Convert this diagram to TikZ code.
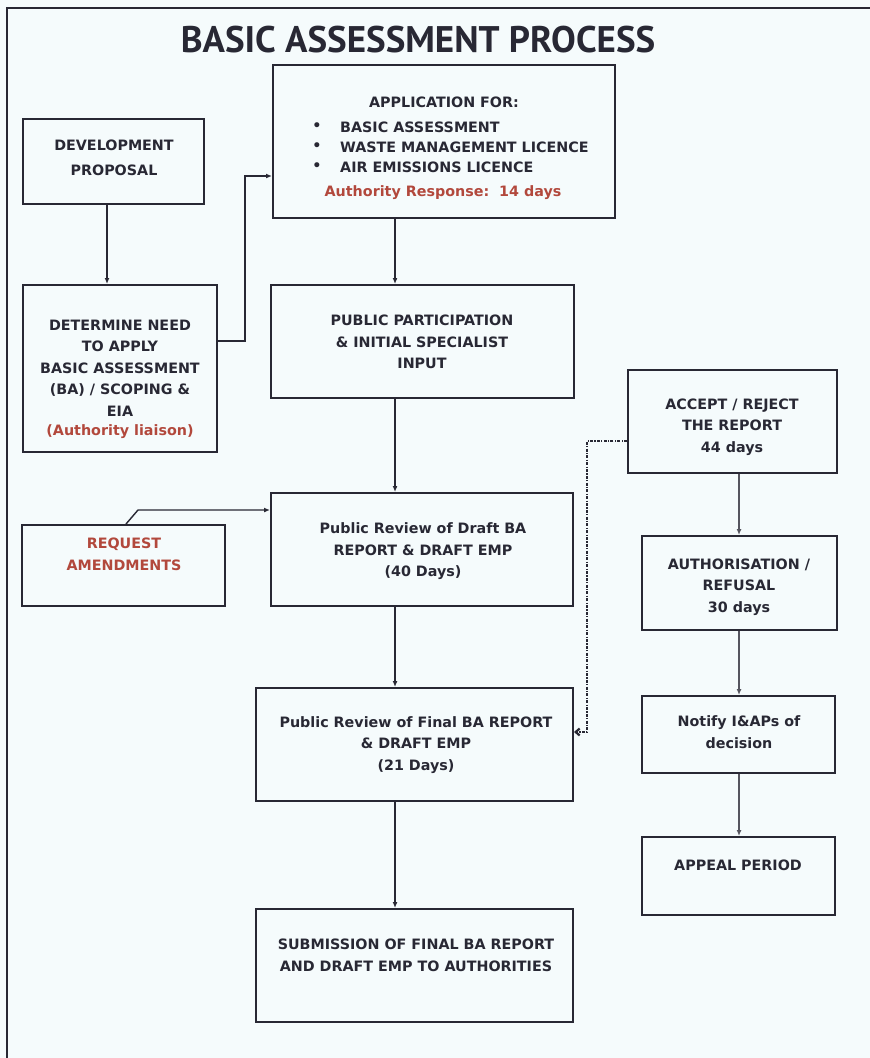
\documentclass[tikz,border=0pt]{standalone}
\usepackage{fontspec}
\setmainfont{PT Sans}
\newfontfamily\boxfont{DejaVu Sans}
\usetikzlibrary{arrows.meta}
\definecolor{bg}{RGB}{245,251,252}
\definecolor{ln}{RGB}{40,40,52}
\definecolor{rd}{RGB}{178,72,60}
\definecolor{gy}{RGB}{85,85,95}
\begin{document}
\begin{tikzpicture}[x=1pt,y=-1pt,
  box/.style={draw=ln, line width=2pt, inner sep=0pt},
  txt/.style={font=\boxfont\bfseries\fontsize{14.3}{21.5}\selectfont, text=ln, align=center, inner sep=0pt},
  redtxt/.style={txt, text=rd},
  arr/.style={draw=ln, line width=1.4pt, -{Latex[length=6pt,width=5pt]}},
  garr/.style={draw=gy, line width=1.7pt, -{Latex[length=6pt,width=5pt]}},
  dotarr/.style={draw=ln, line width=2.2pt, dash pattern=on 3pt off 1.3pt on 1.2pt off 1.3pt, -{Straight Barb[length=4pt,width=7pt]}}
]
\fill[bg] (0,0) rectangle (870,1058);
\useasboundingbox (0,0) rectangle (870,1058);
\draw[ln, line width=1.6pt] (7,1058) -- (7,8) -- (870,8);

\node[font=\bfseries\fontsize{37}{42}\selectfont, text=ln, inner sep=0pt] (title) at (418,40) {BASIC ASSESSMENT PROCESS};

% boxes
\node[box, minimum width=181pt, minimum height=85pt] (dp) at (113.5,161.5) {};
\node[box, minimum width=342pt, minimum height=153pt] (app) at (444,141.5) {};
\node[box, minimum width=194pt, minimum height=167pt] (det) at (120,368.5) {};
\node[box, minimum width=303pt, minimum height=113pt] (pp) at (422.5,341.5) {};
\node[box, minimum width=209pt, minimum height=103pt] (acc) at (732.5,421.5) {};
\node[box, minimum width=302pt, minimum height=113pt] (draft) at (422,549.5) {};
\node[box, minimum width=203pt, minimum height=81pt] (ra) at (123.5,565.5) {};
\node[box, minimum width=195pt, minimum height=94pt] (auth) at (739.5,583) {};
\node[box, minimum width=317pt, minimum height=113pt] (final) at (414.5,744.5) {};
\node[box, minimum width=193pt, minimum height=77pt] (notify) at (738.5,734.5) {};
\node[box, minimum width=193pt, minimum height=78pt] (appeal) at (738.5,876) {};
\node[box, minimum width=317pt, minimum height=113pt] (sub) at (414.5,965.5) {};

% texts
\node[txt] (tdp) at (114,158) {DEVELOPMENT\\[3pt]PROPOSAL};
\node[txt] (tapp) at (444,102) {APPLICATION FOR:};
\node[txt] (b1) at (317,127) {•};
\node[txt] (b2) at (317,147) {•};
\node[txt] (b3) at (317,167) {•};
\node[txt, anchor=west] (l1) at (340,127) {BASIC ASSESSMENT};
\node[txt, anchor=west] (l2) at (340,147) {WASTE MANAGEMENT LICENCE};
\node[txt, anchor=west] (l3) at (340,167) {AIR EMISSIONS LICENCE};
\node[redtxt] (tresp) at (443,193) {Authority Response:\ \ 14 days};
\node[txt] (tdet) at (120,368) {DETERMINE NEED\\TO APPLY\\BASIC ASSESSMENT\\(BA) / SCOPING \&\\EIA};
\node[redtxt] (tliaison) at (120,432) {(Authority liaison)};
\node[txt] (tpp) at (422,342) {PUBLIC PARTICIPATION\\\& INITIAL SPECIALIST\\INPUT};
\node[txt] (tacc) at (732,427) {ACCEPT / REJECT\\THE REPORT\\44 days};
\node[txt] (tauth) at (739,587) {AUTHORISATION /\\REFUSAL\\30 days};
\node[redtxt] (tra) at (124,554.5) {REQUEST\\AMENDMENTS};
\node[txt] (tdraft) at (423,551.5) {Public Review of Draft BA\\REPORT \& DRAFT EMP\\(40 Days)};
\node[txt] (tfinal) at (416,745) {Public Review of Final BA REPORT\\\& DRAFT EMP\\(21 Days)};
\node[txt] (tnot) at (739,732) {Notify I\&APs of\\decision};
\node[txt] (tapl) at (738,865) {APPEAL PERIOD};
\node[txt] (tsub) at (416,955.5) {SUBMISSION OF FINAL BA REPORT\\AND DRAFT EMP TO AUTHORITIES};

% connectors
\draw[arr] (dp.south -| 107,0) -- (det.north -| 107,0);
\draw[arr] (det.east |- 0,341) -- (245,341) -- (245,176) -- (app.west |- 0,176);
\draw[arr] (app.south -| 395,0) -- (pp.north -| 395,0);
\draw[arr] (pp.south -| 395,0) -- (draft.north -| 395,0);
\draw[arr] (draft.south -| 395,0) -- (final.north -| 395,0);
\draw[arr] (final.south -| 395,0) -- (sub.north -| 395,0);
\draw[arr] (ra.north -| 126,0) -- (138,510) -- (draft.west |- 0,510);
\draw[garr] (acc.south -| 739,0) -- (auth.north -| 739,0);
\draw[garr] (auth.south -| 739,0) -- (notify.north -| 739,0);
\draw[garr] (notify.south -| 739,0) -- (appeal.north -| 739,0);
\draw[dotarr] (acc.west |- 0,441) -- (587,441) -- (587,732) -- (final.east |- 0,732);
\end{tikzpicture}
\end{document}
